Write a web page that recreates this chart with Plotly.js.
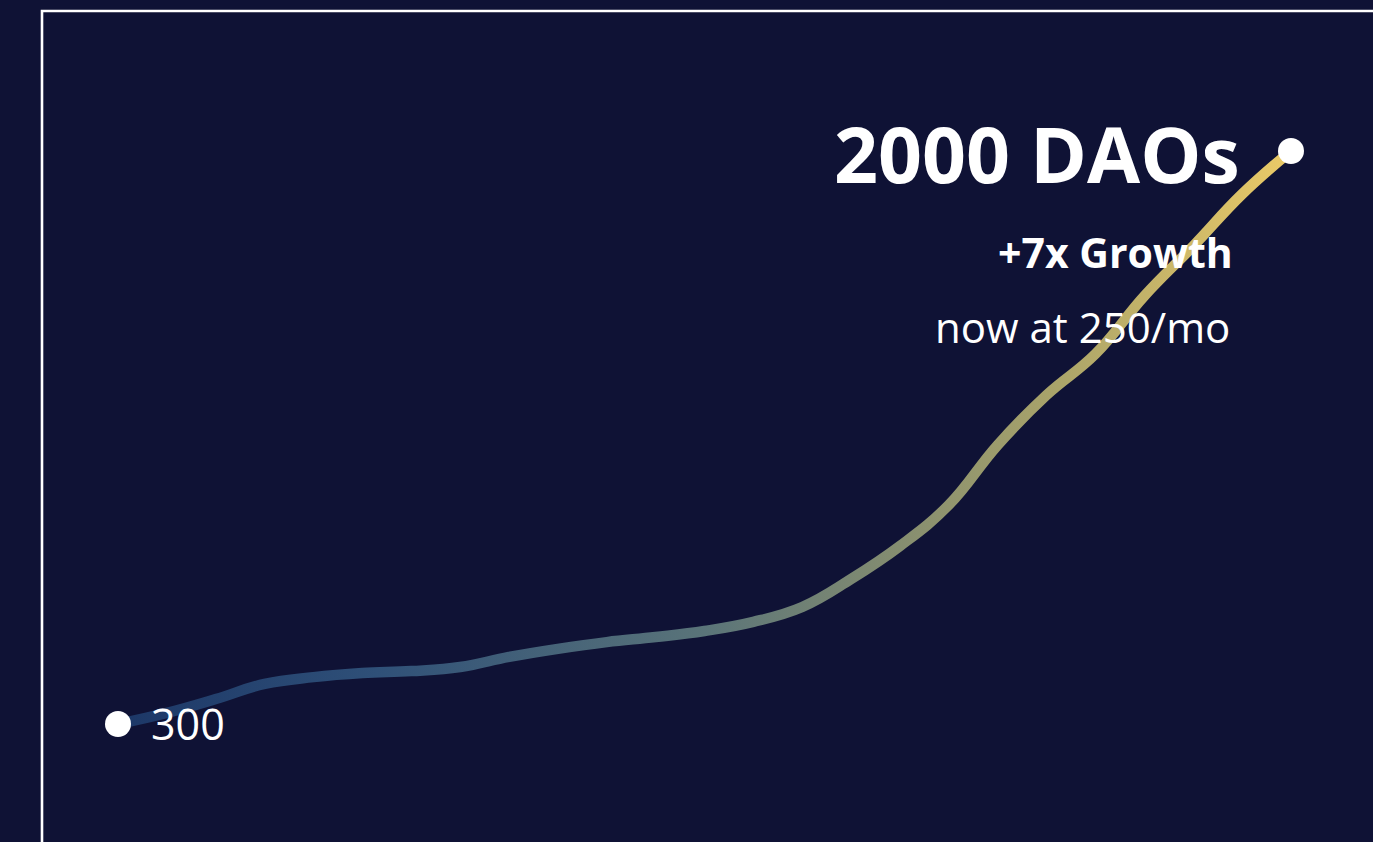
<!DOCTYPE html>
<html>
<head>
<meta charset="utf-8">
<script src="https://cdn.plot.ly/plotly-3.0.1.min.js"></script>
<style>
html,body{margin:0;padding:0;background:#0f1235;overflow:hidden;}
#chart{width:1373px;height:842px;}
</style>
</head>
<body>
<div id="chart"></div>
<script>
// Month index since start
const months = [0,1,2,3,4,5,6,7,8,9,10,11,12,13,14,15,16,17,18,19,20,21,22,23,24];
// Number of DAOs
const daoCount = [300,333,374,419,439,451,457,469,499,523,543,558,576,603,647,730,828,950,1128,1276,1398,1570,1718,1872,2000];
const startLabel = "300";
const endLabel = "2000 DAOs";
const growthLabel = "+7x Growth";
const rateLabel = "now at 250/mo";

const gradientStops = [
  [0, "#1c3767"],
  [0.22, "#2f5078"],
  [0.5, "#5a7479"],
  [0.67, "#868e70"],
  [0.8, "#aaa46a"],
  [1, "#ebca67"]
];

const last = months.length - 1;
const FONT = "Open Sans, Lato, sans-serif";

const traces = [
  {
    x: months, y: daoCount, type: "scatter", mode: "lines",
    line: {shape: "spline", smoothing: 1.2, width: 10.5, color: "#5a7479"},
    hoverinfo: "skip", name: "growth"
  },
  {
    x: [months[0], months[last]], y: [daoCount[0], daoCount[last]],
    type: "scatter", mode: "markers",
    marker: {size: 26, color: "#ffffff", line: {width: 0}},
    hoverinfo: "skip", name: "ends"
  }
];

const layout = {
  width: 1373, height: 842,
  paper_bgcolor: "#0f1235", plot_bgcolor: "#0f1235",
  margin: {l: 42, r: 0, t: 11, b: 0, pad: 0},
  showlegend: false,
  xaxis: {range: [-1.555, 25.678], visible: false, showgrid: false, zeroline: false, fixedrange: true},
  yaxis: {range: [-50.1, 2415.3], visible: false, showgrid: false, zeroline: false, fixedrange: true},
  shapes: [
    {type: "rect", xref: "paper", yref: "paper", x0: 0, x1: 1.2, y0: -0.2, y1: 1,
     line: {color: "#ffffff", width: 2.6}, fillcolor: "rgba(0,0,0,0)", layer: "below"}
  ],
  annotations: [
    {x: months[0], y: daoCount[0], xref: "x", yref: "y", text: startLabel, showarrow: false,
     xanchor: "left", yanchor: "middle", xshift: 31, yshift: 0,
     font: {family: FONT, size: 43, color: "#ffffff", weight: 400}},
    {x: months[last], y: daoCount[last], xref: "x", yref: "y", text: endLabel, showarrow: false,
     xanchor: "right", yanchor: "middle", xshift: -49, yshift: -3,
     font: {family: FONT, size: 77, color: "#ffffff", weight: 700}},
    {x: months[last], y: daoCount[last], xref: "x", yref: "y", text: growthLabel, showarrow: false,
     xanchor: "right", yanchor: "middle", xshift: -56, yshift: -101,
     font: {family: FONT, size: 41, color: "#ffffff", weight: 700}},
    {x: months[last], y: daoCount[last], xref: "x", yref: "y", text: rateLabel, showarrow: false,
     xanchor: "right", yanchor: "middle", xshift: -59, yshift: -176,
     font: {family: FONT, size: 42, color: "#ffffff", weight: 400}}
  ]
};

Plotly.newPlot("chart", traces, layout, {staticPlot: true, displayModeBar: false}).then(function(gd){
  const svg = gd.querySelector("svg.main-svg");
  const ns = "http://www.w3.org/2000/svg";
  let defs = svg.querySelector("defs");
  if (!defs) { defs = document.createElementNS(ns, "defs"); svg.insertBefore(defs, svg.firstChild); }
  const grad = document.createElementNS(ns, "linearGradient");
  grad.setAttribute("id", "lineGrad");
  grad.setAttribute("x1", "0"); grad.setAttribute("y1", "0");
  grad.setAttribute("x2", "1"); grad.setAttribute("y2", "0");
  gradientStops.forEach(function(s){
    const st = document.createElementNS(ns, "stop");
    st.setAttribute("offset", s[0]);
    st.setAttribute("stop-color", s[1]);
    grad.appendChild(st);
  });
  defs.appendChild(grad);
  const path = gd.querySelector(".scatterlayer .trace .js-line");
  if (path) {
    path.style.stroke = "url(#lineGrad)";
    path.style.strokeLinecap = "round";
  }
});
</script>
</body>
</html>
